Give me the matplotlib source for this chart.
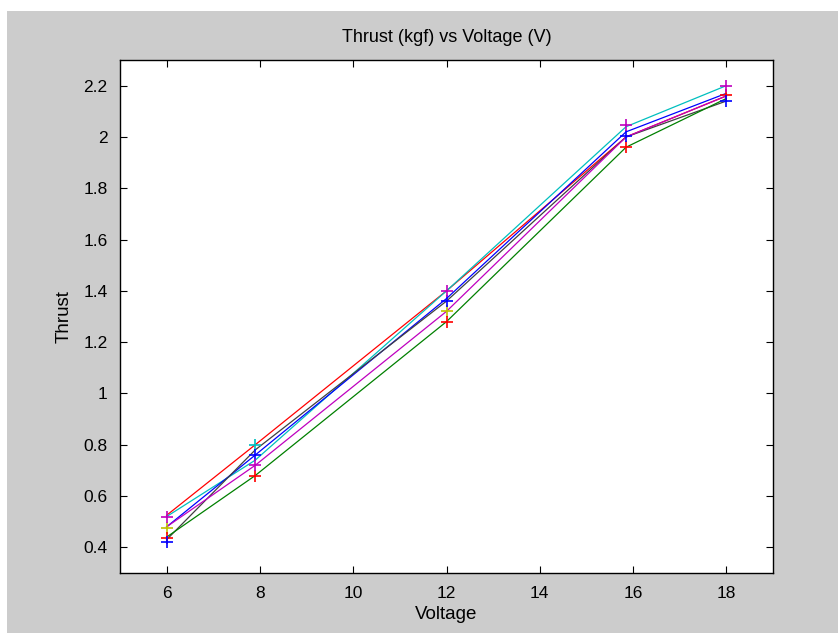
import numpy as np
import matplotlib
matplotlib.use("Agg")
import matplotlib.pyplot as plt
from matplotlib.patches import Rectangle

plt.rcParams['font.family'] = ['Liberation Sans', 'DejaVu Sans']

# MATLAB-style default colour order
c_blue = (0, 0, 1)
c_green = (0, 0.5, 0)
c_red = (1, 0, 0)
c_cyan = (0, 0.75, 0.75)
c_mag = (0.75, 0, 0.75)
c_yel = (0.75, 0.75, 0)
c_gray = (0.25, 0.25, 0.25)

voltage = np.array([6, 7.9, 12, 15.85, 18])

# line series
red_line = [0.525, 0.80, 1.40, 2.00, 2.16]
cyan_line = [0.52, 0.74, 1.40, 2.04, 2.20]
blue_line = [0.48, 0.76, 1.37, 2.02, 2.17]
gray_line = [0.43, 0.78, 1.36, 2.00, 2.14]
mag_line = [0.48, 0.72, 1.32, 2.00, 2.16]
green_line = [0.44, 0.68, 1.28, 1.96, 2.15]

# measured points (markers)
mag_pts = [0.52, 0.72, 1.40, 2.045, 2.20]
blue_pts = [0.42, 0.76, 1.36, 2.005, 2.14]
red_pts = [0.435, 0.68, 1.28, 1.96, 2.165]
yel_pts = [0.475, np.nan, 1.32, np.nan, np.nan]
cyan_pts = [np.nan, 0.80, np.nan, np.nan, np.nan]

fig = plt.figure(figsize=(8.38, 6.33), dpi=100, facecolor='white')
fig.patches.append(Rectangle((7 / 838, 0), 1, 622 / 633, transform=fig.transFigure,
                             facecolor='#cccccc', edgecolor='none', zorder=-1))
ax = fig.add_axes([120 / 838, 60 / 633, 653 / 838, 513 / 633])

lw = 0.9
ax.plot(voltage, red_line, color=c_red, lw=lw)
ax.plot(voltage, cyan_line, color=c_cyan, lw=lw)
ax.plot(voltage, blue_line, color=c_blue, lw=lw)
ax.plot(voltage, gray_line, color=c_gray, lw=lw)
ax.plot(voltage, mag_line, color=c_mag, lw=lw)
ax.plot(voltage, green_line, color=c_green, lw=lw)

ms = 9
for pts, col in [(yel_pts, c_yel), (cyan_pts, c_cyan), (red_pts, c_red),
                 (blue_pts, c_blue), (mag_pts, c_mag)]:
    ax.plot(voltage, pts, '+', color=col, ms=ms, mew=1.2, linestyle='none')

ax.set_xlim(5, 19)
ax.set_ylim(0.3, 2.3)
ax.set_xticks([6, 8, 10, 12, 14, 16, 18])
ax.set_yticks([0.4, 0.6, 0.8, 1, 1.2, 1.4, 1.6, 1.8, 2, 2.2])
ax.set_yticklabels(['0.4', '0.6', '0.8', '1', '1.2', '1.4', '1.6', '1.8', '2', '2.2'])
ax.tick_params(direction='in', top=True, right=True, length=5, labelsize=12.5, pad=9)
for s in ax.spines.values():
    s.set_linewidth(1.0)

ax.set_title("Thrust (kgf) vs Voltage (V)", fontsize=13, pad=13)
ax.set_xlabel("Voltage", fontsize=13.5, labelpad=4)
ax.set_ylabel("Thrust", fontsize=13.5, labelpad=8)

fig.savefig("out.png", dpi=100, facecolor=fig.get_facecolor())
